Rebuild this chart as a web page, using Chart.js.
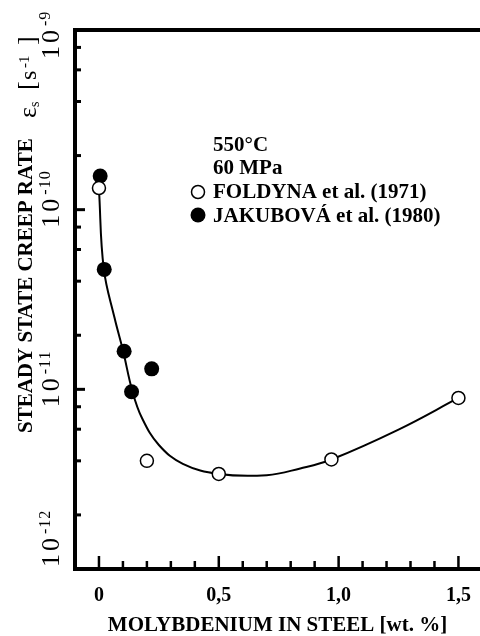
<!DOCTYPE html>
<html>
<head>
<meta charset="utf-8">
<title>Steady state creep rate vs. Mo content</title>
<script src="https://cdn.jsdelivr.net/npm/chart.js@4.4.1/dist/chart.umd.min.js"></script>
<style>
	html, body { margin: 0; padding: 0; background: #ffffff; }
	canvas { display: block; }
</style>
</head>
<body>
<canvas id="graphCanvas" width="480" height="636"></canvas>
<script>
//	Data
var foldynaX = [0, 0.2, 0.5, 0.97, 1.5];
var foldynaY = [1.32e-10, 4.0e-12, 3.38e-12, 4.07e-12, 8.95e-12];

var jakubovaX = [0.005, 0.022, 0.105, 0.136, 0.22];
var jakubovaY = [1.54e-10, 4.65e-11, 1.63e-11, 9.7e-12, 1.3e-11];

// hand drawn fit curve, sampled along the line in the picture
var curveX = [0, 0.02, 0.065, 0.1, 0.14, 0.18, 0.25, 0.35, 0.5, 0.7, 0.84, 0.97, 1.25, 1.5];
var curveY = [1.3e-10, 4.7e-11, 2.5e-11, 1.65e-11, 9.7e-12, 6.9e-12, 4.9e-12, 3.85e-12, 3.38e-12, 3.33e-12, 3.63e-12, 4.07e-12, 5.97e-12, 8.95e-12];

//	Axes
var xTicks = [0, 0.1, 0.2, 0.3, 0.4, 0.5, 0.6, 0.7, 0.8, 0.9, 1.0, 1.1, 1.2, 1.3, 1.4, 1.5];
var xLabelValues = [0, 0.5, 1.0, 1.5];
var xLabels = ['0', '0,5', '1,0', '1,5'];
var yDecades = [1e-12, 1e-11, 1e-10, 1e-9];
var yDecadeExp = ['-12', '-11', '-10', '-9'];
var yMinorSteps = [2, 4, 6, 8];

//	Texts
var xTitle = 'MOLYBDENIUM IN STEEL [wt. %]';
var yTitle = 'STEADY STATE CREEP RATE';
var noteLines = ['550°C', '60 MPa'];
var seriesNames = ['FOLDYNA et al. (1971)', 'JAKUBOVÁ et al. (1980)'];

var serif = "'Liberation Serif', 'Times New Roman', serif";

var toPoints = function (xs, ys) {
	return xs.map(function (x, i) { return { x: x, y: ys[i] }; });
};

var majorIndex = function (v) {
	for (var i = 0; i < xLabelValues.length; i++) {
		if (Math.abs(v - xLabelValues[i]) < 1e-6) return i;
	}
	return -1;
};

// text running bottom -> top, returns where it ended (page y)
var drawUp = function (ctx, text, font, baseX, startY, spacing) {
	ctx.save();
	ctx.translate(baseX, startY);
	ctx.rotate(-Math.PI / 2);
	ctx.font = font;
	ctx.letterSpacing = (spacing || 0) + 'px';
	ctx.textAlign = 'left';
	ctx.textBaseline = 'alphabetic';
	ctx.fillText(text, 0, 0);
	var w = ctx.measureText(text).width;
	ctx.restore();
	return startY - w;
};

var line = function (ctx, x1, y1, x2, y2) {
	ctx.beginPath();
	ctx.moveTo(x1, y1);
	ctx.lineTo(x2, y2);
	ctx.stroke();
};

//	Frame, inward ticks, rotated labels and the key
var paperAxes = {
	id: 'paperAxes',
	afterDraw: function (chart) {
		var ctx = chart.ctx;
		var area = chart.chartArea;
		var xs = chart.scales.x;
		var ys = chart.scales.y;
		ctx.save();
		ctx.strokeStyle = '#000';
		ctx.fillStyle = '#000';

		// top frame line
		ctx.lineWidth = 4;
		line(ctx, area.left - 2, area.top, area.right, area.top);

		// x ticks (inward) and labels
		ctx.lineWidth = 2.5;
		ctx.font = 'bold 20px ' + serif;
		ctx.textAlign = 'center';
		ctx.textBaseline = 'middle';
		xTicks.forEach(function (v) {
			var px = xs.getPixelForValue(v);
			var k = majorIndex(v);
			line(ctx, px, area.bottom, px, area.bottom - (k >= 0 ? 13 : 8));
			if (k >= 0) ctx.fillText(xLabels[k], px, area.bottom + 27);
		});

		// y ticks (inward)
		ctx.lineWidth = 3;
		yDecades.forEach(function (d, i) {
			var py = ys.getPixelForValue(d);
			line(ctx, area.left, py, area.left + 10, py);
			if (i < yDecades.length - 1) {
				yMinorSteps.forEach(function (m) {
					var p = ys.getPixelForValue(d * m);
					line(ctx, area.left, p, area.left + 6, p);
				});
			}
		});

		// y tick labels 10^n, rotated
		yDecades.forEach(function (d, i) {
			var py = ys.getPixelForValue(d);
			var c = Math.max(area.top + 14, Math.min(area.bottom - 17, py + 3));
			var end = drawUp(ctx, '10', '26px ' + serif, 59, c + 15, 3);
			drawUp(ctx, yDecadeExp[i], '16px ' + serif, 50, end - 1, 1);
		});

		// y title
		drawUp(ctx, yTitle, 'bold 21px ' + serif, 32, 433, 0);
		var e = drawUp(ctx, 'ε', '26px ' + serif, 36, 118, 0);
		drawUp(ctx, 's', '14px ' + serif, 39, e, 0);
		drawUp(ctx, '[', '26px ' + serif, 35, 90, 0);
		drawUp(ctx, 's', '24px ' + serif, 36, 80, 0);
		drawUp(ctx, '-1', '15px ' + serif, 29, 68, 0);
		drawUp(ctx, ']', '26px ' + serif, 35, 45, 0);

		// key
		ctx.font = 'bold 21px ' + serif;
		ctx.textAlign = 'left';
		ctx.textBaseline = 'alphabetic';
		ctx.fillText(noteLines[0], 213, 151);
		ctx.fillText(noteLines[1], 213, 174);
		ctx.fillText(seriesNames[0], 213, 198);
		ctx.fillText(seriesNames[1], 213, 222);
		ctx.lineWidth = 1.5;
		ctx.beginPath();
		ctx.arc(198, 192, 6.5, 0, Math.PI * 2);
		ctx.stroke();
		ctx.beginPath();
		ctx.arc(198, 215, 7.5, 0, Math.PI * 2);
		ctx.fill();
		ctx.restore();
	}
};

var graphSettings = {
	type: 'scatter',
	data: {
		datasets: [
			{
				label: seriesNames[0],
				data: toPoints(foldynaX, foldynaY),
				pointStyle: 'circle',
				pointRadius: 6.5,
				pointBackgroundColor: '#ffffff',
				pointBorderColor: '#000000',
				pointBorderWidth: 1.5,
				order: 1
			},
			{
				label: seriesNames[1],
				data: toPoints(jakubovaX, jakubovaY),
				pointStyle: 'circle',
				pointRadius: 7.5,
				pointBackgroundColor: '#000000',
				pointBorderColor: '#000000',
				pointBorderWidth: 0,
				order: 1
			},
			{
				label: 'fit',
				data: toPoints(curveX, curveY),
				showLine: true,
				borderColor: '#000000',
				borderWidth: 2,
				pointRadius: 0,
				tension: 0.4,
				order: 3
			}
		]
	},
	options: {
		responsive: false,
		animation: false,
		layout: { autoPadding: false, padding: { left: 75, top: 30, right: 0, bottom: 0 } },
		plugins: {
			legend: { display: false },
			tooltip: { enabled: false }
		},
		scales: {
			x: {
				type: 'linear',
				min: -0.1,
				max: 1.59,
				grid: { display: true, drawOnChartArea: false, drawTicks: false },
				border: { display: true, width: 4, color: '#000000' },
				ticks: { display: false },
				afterFit: function (scale) {
					scale.paddingLeft = 0;
					scale.paddingRight = 0;
				},
				title: {
					display: true,
					text: xTitle,
					color: '#000000',
					font: { family: serif, size: 21, weight: 'bold', lineHeight: 1 },
					padding: { top: 46, bottom: 0 }
				}
			},
			y: {
				type: 'logarithmic',
				min: 1e-12,
				max: 1e-9,
				grid: { display: true, drawOnChartArea: false, drawTicks: false },
				border: { display: true, width: 4, color: '#000000' },
				ticks: { display: false }
			}
		}
	},
	plugins: [paperAxes]
};

var theGraph = new Chart(document.getElementById('graphCanvas'), graphSettings);
</script>
</body>
</html>
